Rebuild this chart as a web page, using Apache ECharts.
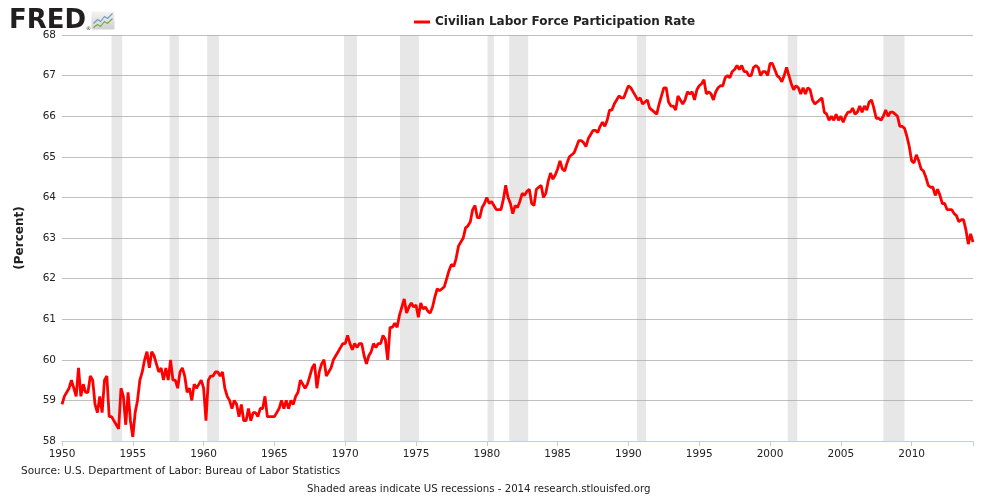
<!DOCTYPE html>
<html>
<head>
<meta charset="utf-8">
<title>Civilian Labor Force Participation Rate</title>
<script src="https://cdn.jsdelivr.net/npm/echarts@6/dist/echarts.min.js"></script>
<style>
  html, body { margin: 0; padding: 0; background: #fff; }
  #chart { width: 1000px; height: 500px; }
</style>
</head>
<body>
<div id="chart"></div>
<script>
// 数据：1950年1月起，每两个月一个读数（百分比）
var START_YEAR = 1950;
var STEP_MONTHS = 2;
var participation = [
  58.9, 59.1, 59.2, 59.3, 59.5, 59.3,   // 1950
  59.1, 59.8, 59.1, 59.4, 59.2, 59.2,   // 1951
  59.6, 59.5, 58.9, 58.7, 59.1, 58.7,   // 1952
  59.5, 59.6, 58.6, 58.6, 58.5, 58.4,   // 1953
  58.3, 59.3, 59.1, 58.4, 59.2, 58.5,   // 1954
  58.1, 58.7, 59.0, 59.5, 59.7, 60.0,   // 1955
  60.2, 59.8, 60.2, 60.1, 59.9, 59.7,   // 1956
  59.8, 59.5, 59.8, 59.5, 60.0, 59.5,   // 1957
  59.5, 59.3, 59.7, 59.8, 59.6, 59.2,   // 1958
  59.3, 59.0, 59.4, 59.3, 59.4, 59.5,   // 1959
  59.3, 58.5, 59.5, 59.6, 59.6, 59.7,   // 1960
  59.7, 59.6, 59.7, 59.3, 59.1, 59.0,   // 1961
  58.8, 59.0, 58.9, 58.6, 58.9, 58.5,   // 1962
  58.5, 58.8, 58.5, 58.7, 58.7, 58.6,   // 1963
  58.8, 58.8, 59.1, 58.6, 58.6, 58.6,   // 1964
  58.6, 58.7, 58.8, 59.0, 58.8, 59.0,   // 1965
  58.8, 59.0, 58.9, 59.1, 59.2, 59.5,   // 1966
  59.4, 59.3, 59.4, 59.6, 59.8, 59.9,   // 1967
  59.3, 59.7, 59.9, 60.0, 59.6, 59.7,   // 1968
  59.8, 60.0, 60.1, 60.2, 60.3, 60.4,   // 1969
  60.4, 60.6, 60.4, 60.25, 60.4, 60.3,  // 1970
  60.4, 60.4, 60.1, 59.9, 60.1, 60.2,   // 1971
  60.4, 60.3, 60.4, 60.4, 60.6, 60.5,   // 1972
  60.0, 60.8, 60.8, 60.9, 60.8, 61.1,   // 1973
  61.3, 61.5, 61.15, 61.3, 61.4, 61.3,  // 1974
  61.35, 61.05, 61.4, 61.25, 61.3, 61.2, // 1975
  61.15, 61.3, 61.55, 61.75, 61.7, 61.75, // 1976
  61.8, 62.0, 62.2, 62.35, 62.3, 62.5,  // 1977
  62.8, 62.9, 63.0, 63.25, 63.3, 63.4,  // 1978
  63.7, 63.8, 63.5, 63.5, 63.75, 63.85, // 1979
  64.0, 63.85, 63.9, 63.8, 63.7, 63.7,  // 1980
  63.7, 63.95, 64.3, 64.0, 63.85, 63.6, // 1981
  63.8, 63.75, 63.9, 64.1, 64.05, 64.15, // 1982
  64.2, 63.85, 63.8, 64.2, 64.25, 64.3, // 1983
  64.0, 64.1, 64.4, 64.6, 64.45, 64.55, // 1984
  64.7, 64.9, 64.7, 64.65, 64.85, 65.0, // 1985
  65.05, 65.1, 65.25, 65.4, 65.4, 65.35, // 1986
  65.25, 65.45, 65.55, 65.65, 65.65, 65.6, // 1987
  65.75, 65.85, 65.75, 65.9, 66.15, 66.15, // 1988
  66.3, 66.4, 66.5, 66.45, 66.45, 66.6, // 1989
  66.75, 66.7, 66.6, 66.5, 66.4, 66.45, // 1990
  66.3, 66.35, 66.4, 66.2, 66.15, 66.1, // 1991
  66.05, 66.3, 66.5, 66.7, 66.7, 66.35, // 1992
  66.25, 66.25, 66.15, 66.5, 66.4, 66.3, // 1993
  66.4, 66.6, 66.55, 66.6, 66.4, 66.65, // 1994
  66.75, 66.8, 66.9, 66.55, 66.6, 66.55, // 1995
  66.4, 66.6, 66.7, 66.75, 66.75, 66.95, // 1996
  67.0, 66.95, 67.1, 67.15, 67.25, 67.15, // 1997
  67.25, 67.1, 67.1, 67.0, 67.0, 67.2, // 1998
  67.25, 67.2, 67.0, 67.1, 67.1, 67.0, // 1999
  67.3, 67.3, 67.15, 67.0, 66.95, 66.85, // 2000
  67.0, 67.2, 67.0, 66.8, 66.65, 66.75, // 2001
  66.7, 66.55, 66.7, 66.55, 66.7, 66.65, // 2002
  66.4, 66.3, 66.35, 66.4, 66.45, 66.1, // 2003
  66.05, 65.9, 66.0, 65.9, 66.05, 65.9, // 2004
  66.0, 65.85, 66.0, 66.1, 66.1, 66.2,  // 2005
  66.05, 66.1, 66.25, 66.1, 66.25, 66.15, // 2006
  66.35, 66.4, 66.2, 65.95, 65.95, 65.9, // 2007
  66.0, 66.15, 66.0, 66.1, 66.1, 66.05, // 2008
  66.0, 65.75, 65.75, 65.7, 65.5, 65.25, // 2009
  64.9, 64.85, 65.05, 64.9, 64.7, 64.65, // 2010
  64.5, 64.3, 64.25, 64.25, 64.05, 64.2, // 2011
  64.05, 63.85, 63.85, 63.7, 63.7, 63.7, // 2012
  63.6, 63.55, 63.4, 63.45, 63.45, 63.2, // 2013
  62.85, 63.1, 62.9                      // 2014
];

// 美国经济衰退区间（小数年份）
var recessions = [
  [1953.5, 1954.25], [1957.6, 1958.25], [1960.25, 1961.08], [1969.92, 1970.83],
  [1973.87, 1975.2], [1980.05, 1980.5], [1981.58, 1982.92], [1990.6, 1991.25],
  [2001.25, 2001.92], [2008.0, 2009.5]
];

var yearTicks = [1950, 1955, 1960, 1965, 1970, 1975, 1980, 1985, 1990, 1995, 2000, 2005, 2010];

var SERIES_NAME = 'Civilian Labor Force Participation Rate';
var FONT = '"DejaVu Sans", Verdana, sans-serif';

var seriesData = participation.map(function(v, i) {
  return [START_YEAR + i * STEP_MONTHS / 12, v];
});
var lastX = seriesData[seriesData.length - 1][0];

var chart = echarts.init(document.getElementById('chart'), null, { renderer: 'canvas' });

var option = {
  animation: false,
  backgroundColor: '#fff',
  textStyle: { fontFamily: FONT },
  legend: {
    data: [SERIES_NAME],
    left: 409,
    top: 11,
    icon: 'rect',
    itemWidth: 16,
    itemHeight: 3,
    textStyle: { fontSize: 12, fontWeight: 'bold', color: '#222', fontFamily: FONT }
  },
  grid: { left: 62, right: 27, top: 35, bottom: 59 },
  xAxis: {
    type: 'value',
    min: 1950,
    max: lastX,
    interval: 5,
    splitLine: { show: false },
    axisLine: { lineStyle: { color: '#c0d0e0', width: 1 } },
    axisTick: { lineStyle: { color: '#c0d0e0' }, length: 5 },
    axisLabel: {
      fontSize: 10.5,
      color: '#222',
      margin: 8,
      formatter: function(v) {
        return yearTicks.indexOf(Math.round(v)) >= 0 && Math.abs(v - Math.round(v)) < 1e-6 ? String(Math.round(v)) : '';
      }
    }
  },
  yAxis: {
    type: 'value',
    min: 58,
    max: 68,
    interval: 1,
    name: '(Percent)',
    nameLocation: 'middle',
    nameRotate: 90,
    nameGap: 36,
    nameTextStyle: { fontSize: 12, fontWeight: 'bold', color: '#222' },
    axisLine: { show: false },
    axisTick: { show: false },
    axisLabel: { fontSize: 10.5, color: '#222', margin: 6 },
    splitLine: { lineStyle: { color: '#c0c0c0', width: 1 } }
  },
  series: [{
    name: SERIES_NAME,
    type: 'line',
    data: seriesData,
    showSymbol: false,
    symbol: 'none',
    lineStyle: { color: '#ff0000', width: 2.8 },
    itemStyle: { color: '#ff0000' },
    markArea: {
      silent: true,
      itemStyle: { color: 'rgba(160,160,160,0.25)' },
      data: recessions.map(function(r) {
        return [{ xAxis: r[0] }, { xAxis: r[1] }];
      })
    }
  }],
  graphic: [
    {
      type: 'text', left: 9, top: 8,
      style: { text: 'FRED', fontSize: 26, fontWeight: 'bold', fontFamily: FONT, fill: '#231f20' }
    },
    {
      type: 'text', left: 86, top: 26,
      style: { text: '®', fontSize: 5, fontFamily: FONT, fill: '#231f20' }
    },
    {
      type: 'group', left: 91, top: 11,
      children: [
        {
          type: 'rect', shape: { x: 0, y: 0, width: 23, height: 18, r: 1 },
          style: {
            fill: new echarts.graphic.LinearGradient(0, 0, 0, 1, [
              { offset: 0, color: '#f4f4f4' }, { offset: 1, color: '#cfcfcf' }
            ])
          }
        },
        {
          type: 'polyline',
          shape: { points: [[2, 12], [6, 8], [9, 10], [13, 5], [16, 7], [21, 2]] },
          style: { stroke: '#6f9fc8', lineWidth: 1.2, fill: null }
        },
        {
          type: 'polyline',
          shape: { points: [[2, 16], [6, 13], [9, 15], [13, 10], [16, 12], [21, 7]] },
          style: { stroke: '#7aa84a', lineWidth: 1.2, fill: null }
        }
      ]
    },
    {
      type: 'text', left: 21, top: 466,
      style: { text: 'Source: U.S. Department of Labor: Bureau of Labor Statistics', fontSize: 10.5, fontFamily: FONT, fill: '#222' }
    },
    {
      type: 'text', left: 307, top: 484,
      style: { text: 'Shaded areas indicate US recessions - 2014 research.stlouisfed.org', fontSize: 10.2, fontFamily: FONT, fill: '#222' }
    }
  ]
};

chart.setOption(option);
</script>
</body>
</html>
